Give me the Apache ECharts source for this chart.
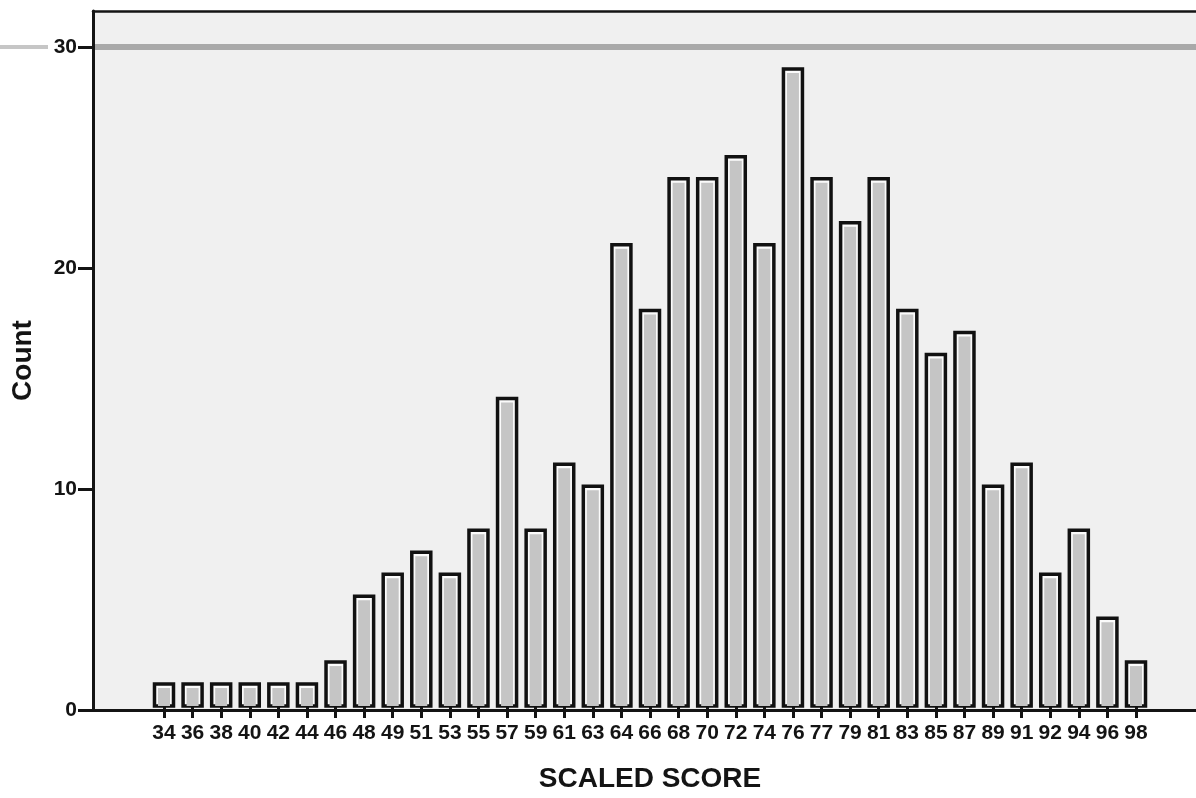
<!DOCTYPE html>
<html>
<head>
<meta charset="utf-8">
<script src="https://cdn.jsdelivr.net/npm/echarts@6/dist/echarts.min.js"></script>
<style>
  html, body { margin: 0; padding: 0; background: #ffffff; }
  #chart { width: 1196px; height: 798px; }
</style>
</head>
<body>
<div id="chart"></div>
<script>
// ---- data ----
const categories = ['34','36','38','40','42','44','46','48','49','51','53','55','57','59','61','63','64','66',
                    '68','70','72','74','76','77','79','81','83','85','87','89','91','92','94','96','98'];
const counts = [1,1,1,1,1,1,2,5,6,7,6,8,14,8,11,10,21,18,24,24,25,21,29,24,22,24,18,16,17,10,11,6,8,4,2];
const yTickValues = [0, 10, 20, 30];
const xTitle = 'SCALED SCORE';
const yTitle = 'Count';

const yMin = yTickValues[0];
const yMax = yTickValues[yTickValues.length - 1];
const yStep = yTickValues[1] - yTickValues[0];

const FONT = "'Liberation Sans', Arial, Helvetica, sans-serif";
const INK = '#141414';

const chart = echarts.init(document.getElementById('chart'), null, { renderer: 'canvas' });

const option = {
  backgroundColor: '#ffffff',
  animation: false,
  grid: [
    // 0: plot frame / background
    { left: 93, right: 0, top: 11, bottom: 88, show: true, backgroundColor: '#f0f0f0', borderWidth: 0, z: 0 },
    // 1: y ticks & labels
    { left: 93, right: 0, top: 47, bottom: 88, z: 3 },
    // 2: bars
    { left: 149.7, right: 45.7, top: 47, bottom: 88, z: 4 },
    // 3: thick grey reference line at the top value (inside plot)
    { left: 95, right: 0, top: 47, bottom: 88, z: 1 },
    // 4: light continuation of that line left of the labels
    { left: 0, width: 48, top: 47, bottom: 88, z: 1 }
  ],
  xAxis: [
    { gridIndex: 0, type: 'value', position: 'top', min: 0, max: 1, z: 5,
      axisLine: { show: true, onZero: false, lineStyle: { color: INK, width: 2.5 } },
      axisTick: { show: false }, axisLabel: { show: false }, splitLine: { show: false } },
    { gridIndex: 0, type: 'value', position: 'bottom', min: 0, max: 1, z: 6,
      axisLine: { show: true, onZero: false, lineStyle: { color: INK, width: 3 } },
      axisTick: { show: false }, axisLabel: { show: false }, splitLine: { show: false } },
    { gridIndex: 1, type: 'value', min: 0, max: 1, show: false },
    { gridIndex: 2, type: 'category', data: categories, boundaryGap: true,
      name: xTitle, nameLocation: 'middle', nameGap: 59,
      nameTextStyle: { fontFamily: FONT, fontWeight: 'bold', fontSize: 28, color: INK },
      axisLine: { show: false },
      axisTick: { show: true, alignWithLabel: true, length: 12, lineStyle: { color: INK, width: 3 } },
      axisLabel: { interval: 0, margin: 17, fontFamily: FONT, fontWeight: 'bold', fontSize: 21, color: INK },
      splitLine: { show: false } },
    { gridIndex: 3, type: 'value', min: 0, max: 1, show: false },
    { gridIndex: 4, type: 'value', min: 0, max: 1, show: false }
  ],
  yAxis: [
    { gridIndex: 0, type: 'value', min: yMin, max: yMax + 1.58, z: 5,
      name: yTitle, nameLocation: 'middle', nameGap: 56, nameRotate: 90,
      nameTextStyle: { fontFamily: FONT, fontWeight: 'bold', fontSize: 28, color: INK },
      axisLine: { show: true, lineStyle: { color: INK, width: 3 } },
      axisTick: { show: false }, axisLabel: { show: false }, splitLine: { show: false } },
    { gridIndex: 1, type: 'value', min: yMin, max: yMax, interval: yStep, z: 6,
      axisLine: { show: false },
      axisTick: { show: true, length: 15, lineStyle: { color: INK, width: 3 } },
      axisLabel: { margin: 16, fontFamily: FONT, fontWeight: 'bold', fontSize: 21, color: INK,
                   backgroundColor: '#ffffff' },
      splitLine: { show: false } },
    { gridIndex: 2, type: 'value', min: yMin, max: yMax, interval: yStep, show: false },
    { gridIndex: 3, type: 'value', min: yMin, max: yMax, interval: yMax - yMin, z: 2,
      axisLine: { show: false }, axisTick: { show: false }, axisLabel: { show: false },
      splitLine: { show: true, lineStyle: { color: ['rgba(0,0,0,0)', '#a9a9a9'], width: 6 } } },
    { gridIndex: 4, type: 'value', min: yMin, max: yMax, interval: yMax - yMin, z: 1,
      axisLine: { show: false }, axisTick: { show: false }, axisLabel: { show: false },
      splitLine: { show: true, lineStyle: { color: ['rgba(0,0,0,0)', '#c6c6c6'], width: 4 } } }
  ],
  series: [
    {
      type: 'custom',
      xAxisIndex: 3,
      yAxisIndex: 2,
      z: 4,
      encode: { x: 0, y: 1 },
      data: counts.map((v, i) => [i, v]),
      renderItem: function (params, api) {
        const idx = api.value(0);
        const val = api.value(1);
        const top = api.coord([idx, val]);
        const base = api.coord([idx, 0]);
        const cx = top[0];
        const h = base[1] - top[1];
        return {
          type: 'group',
          children: [
            { type: 'rect',
              shape: { x: cx - 9.5, y: top[1], width: 19, height: h },
              style: { fill: '#fbfbfb', stroke: '#111111', lineWidth: 3.5 } },
            { type: 'rect',
              shape: { x: cx - 6, y: top[1] + 4, width: 12, height: Math.max(0, h - 4) },
              style: { fill: '#c5c5c5' } }
          ]
        };
      }
    }
  ]
};

chart.setOption(option);
</script>
</body>
</html>
